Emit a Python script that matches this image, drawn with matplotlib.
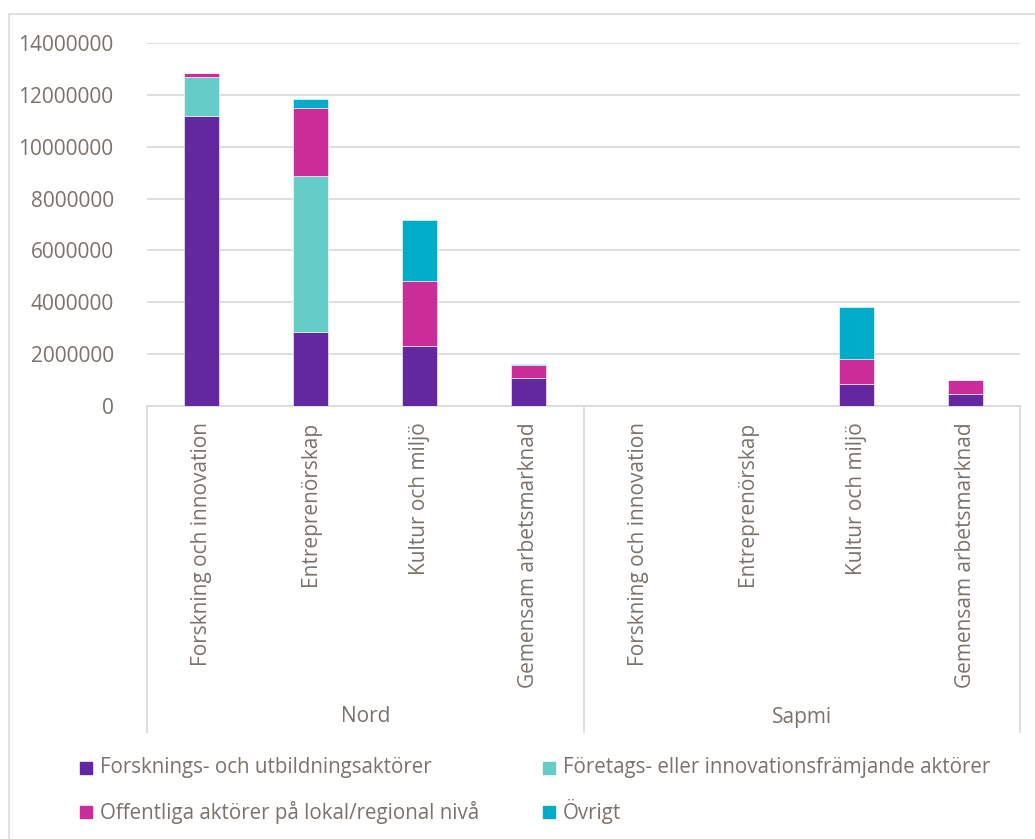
import numpy as np
import matplotlib.pyplot as plt
from matplotlib.patches import Rectangle
from matplotlib.lines import Line2D

plt.rcParams['font.family'] = ['Open Sans', 'DejaVu Sans']

# data
groups = ['Nord', 'Sapmi']
categories = ['Forskning och innovation', 'Entreprenörskap', 'Kultur och miljö', 'Gemensam arbetsmarknad']
series = ['Forsknings- och utbildningsaktörer',
          'Företags- eller innovationsfrämjande aktörer',
          'Offentliga aktörer på lokal/regional nivå',
          'Övrigt']
forskning = [11200000, 2850000, 2330000, 1090000, 0, 0, 850000, 460000]
foretag = [1470000, 6010000, 0, 0, 0, 0, 0, 0]
offentliga = [160000, 2650000, 2490000, 490000, 0, 0, 950000, 530000]
ovrigt = [0, 320000, 2340000, 40000, 0, 0, 2000000, 0]
yticks = [0, 2000000, 4000000, 6000000, 8000000, 10000000, 12000000, 14000000]

colors = ['#6327A0', '#66CCC7', '#CB2D98', '#00ACC8']
txt = '#7a726b'
grid = '#d9d9d9'

W, H = 1035, 839
fig = plt.figure(figsize=(W / 100, H / 100), dpi=100)
left, right, top, bot = 147, 1020, 43, 406
ax = fig.add_axes([left / W, 1 - bot / H, (right - left) / W, (bot - top) / H])

x = np.arange(len(groups) * len(categories))
bottom = np.zeros(len(x))
for vals, c in zip([forskning, foretag, offentliga, ovrigt], colors):
    vals = np.array(vals, dtype=float)
    ax.bar(x, vals, bottom=bottom, width=0.32, color=c, edgecolor='white', linewidth=0.4, zorder=3)
    bottom += vals

ax.set_xlim(-0.5, len(x) - 0.5)
ax.set_ylim(0, 14000000)
ax.set_yticks(yticks)
ax.set_yticklabels([str(v) for v in yticks])
ax.tick_params(axis='y', length=0, pad=24, labelsize=15, labelcolor=txt)
ax.set_xticks([])
ax.grid(axis='y', color=grid, linewidth=1.2, zorder=0)
for s in ['top', 'right', 'left']:
    ax.spines[s].set_visible(False)
ax.spines['bottom'].set_color(grid)
ax.spines['bottom'].set_linewidth(1.2)

# category labels, rotated, under each bar
for i, xi in enumerate(x):
    ax.text(xi, -0.045, categories[i % len(categories)], transform=ax.get_xaxis_transform(),
            rotation=90, ha='center', va='top', fontsize=15, color=txt)

# group separators and group labels
sep_bottom = 732
for xs in [-0.5, 3.5, 7.5]:
    ax.add_line(Line2D([xs, xs], [0, -(sep_bottom - bot) / (bot - top)],
                       transform=ax.get_xaxis_transform(), color=grid, lw=1.2, clip_on=False))
for g, name in enumerate(groups):
    ax.text(g * 4 + 1.5, -(717 - bot) / (bot - top), name, transform=ax.get_xaxis_transform(),
            ha='center', va='center', fontsize=15, color=txt)

# outer chart border
fig.add_artist(Rectangle((9 / W, -0.1), 1.2, 1 - 14 / H + 0.1, transform=fig.transFigure,
                         fill=False, edgecolor=grid, lw=1.2))

# legend laid out in two columns
leg_pos = [(80, 768), (543, 768), (80, 812), (543, 812)]
for (px, py), name, c in zip(leg_pos, series, colors):
    fig.add_artist(Rectangle((px / W, 1 - (py + 6) / H), 12 / W, 12 / H,
                             transform=fig.transFigure, color=c))
    fig.text((px + 20) / W, 1 - py / H, name, ha='left', va='center', fontsize=14.8, color=txt)

fig.savefig('out.png', dpi=100)
